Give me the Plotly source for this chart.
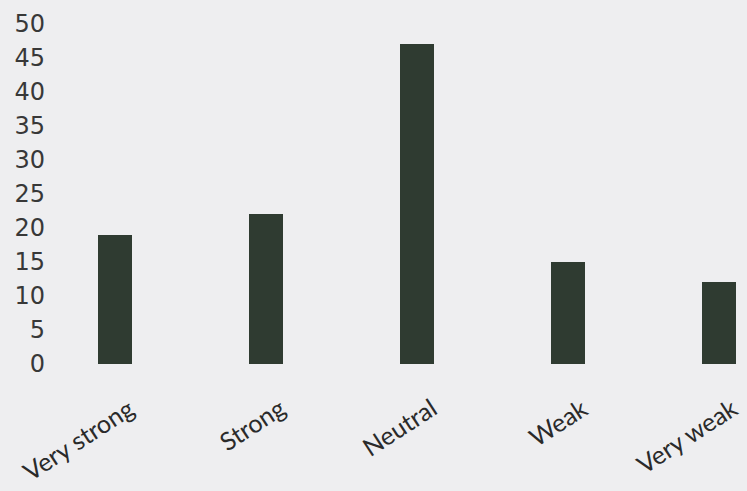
import plotly.graph_objects as go

categories = ["Very strong", "Strong", "Neutral", "Weak", "Very weak"]
values = [19, 22, 47, 15, 12]
y_ticks = [0, 5, 10, 15, 20, 25, 30, 35, 40, 45, 50]

bg = "#eeeef0"
bar_color = "#2f3b31"

xs = list(range(len(categories)))

fig = go.Figure(
    go.Bar(
        x=xs,
        y=values,
        width=0.225,
        marker=dict(color=bar_color, line=dict(width=0)),
        hoverinfo="skip",
    )
)

for xi, label in zip(xs, categories):
    fig.add_annotation(
        x=xi, y=0, xref="x", yref="y",
        text=label, showarrow=False,
        textangle=-33,
        xanchor="right", yanchor="top",
        xshift=27, yshift=-25,
        font=dict(family="Lato", size=25, color="#2a2a2a"),
    )

fig.update_layout(
    width=747,
    height=491,
    margin=dict(l=50, r=0, t=24, b=127),
    paper_bgcolor=bg,
    plot_bgcolor=bg,
    showlegend=False,
    bargap=0,
)

fig.update_xaxes(
    range=[-0.43, 4.185],
    showticklabels=False,
    showgrid=False,
    zeroline=False,
    showline=False,
    ticks="",
)

fig.update_yaxes(
    range=[0, 50],
    tickmode="array",
    tickvals=y_ticks,
    tickfont=dict(family="DejaVu Sans", size=24, color="#383838"),
    showgrid=False,
    zeroline=False,
    showline=False,
    ticks="",
    ticklabelstandoff=4,
)

fig.write_html(
    "out.html",
    config={"displayModeBar": False},
    post_script="document.body.style.margin='0';",
)
